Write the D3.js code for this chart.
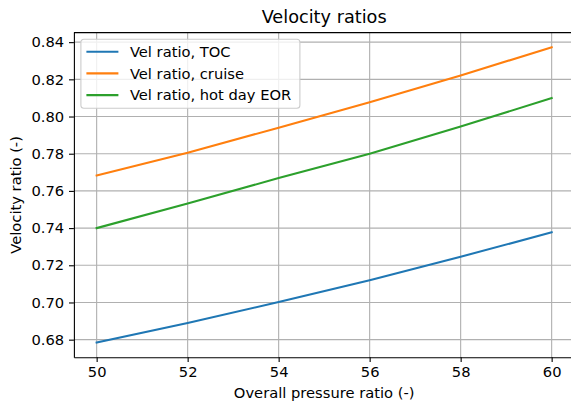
<!DOCTYPE html>
<html lang="en">
<head>
  <meta charset="UTF-8">
  <title>Velocity ratios</title>
  <script src="https://d3js.org/d3.v7.min.js"></script>
  <style>
    body {
      margin: 0;
      background: #fff;
      font-family: "DejaVu Sans", sans-serif;
    }
    svg text { fill: #000; }
  </style>
</head>
<body>
  <div id="chart"></div>
  <script>
    // data
    const opr = [50, 52, 54, 56, 58, 60];
    const velTOC = [0.6785, 0.689, 0.7002, 0.712, 0.7246, 0.7377];
    const velCruise = [0.7683, 0.7805, 0.7940, 0.8077, 0.8221, 0.8372];
    const velHotDay = [0.7400, 0.7532, 0.7669, 0.7800, 0.7946, 0.8099];
    const seriesNames = ["Vel ratio, TOC", "Vel ratio, cruise", "Vel ratio, hot day EOR"];
    const xTicks = [50, 52, 54, 56, 58, 60];
    const yTicks = [0.68, 0.70, 0.72, 0.74, 0.76, 0.78, 0.80, 0.82, 0.84];

    const colors = ["#1f77b4", "#ff7f0e", "#2ca02c"];
    const width = 571, height = 404;
    const margin = {top: 32.6, right: -3.4, bottom: 46.8, left: 73.9};
    const innerW = width - margin.left - margin.right;
    const innerH = height - margin.top - margin.bottom;
    const fs = 14.7;

    const series = [velTOC, velCruise, velHotDay].map((vals, i) => ({
      name: seriesNames[i],
      color: colors[i],
      points: opr.map((x, j) => ({x: x, y: vals[j]}))
    }));

    // matplotlib style 5% margins
    const allY = [].concat(velTOC, velCruise, velHotDay);
    const yMin = d3.min(allY), yMax = d3.max(allY);
    const yPad = (yMax - yMin) * 0.05;
    const xPad = (d3.max(opr) - d3.min(opr)) * 0.05;

    const x = d3.scaleLinear()
      .domain([d3.min(opr) - xPad, d3.max(opr) + xPad])
      .range([0, innerW]);
    const y = d3.scaleLinear()
      .domain([yMin - yPad, yMax + yPad])
      .range([innerH, 0]);

    const svg = d3.select("#chart").append("svg")
      .attr("width", width)
      .attr("height", height);

    const g = svg.append("g")
      .attr("transform", `translate(${margin.left},${margin.top})`);

    // grid
    g.append("g").selectAll("line")
      .data(xTicks).join("line")
      .attr("x1", d => x(d)).attr("x2", d => x(d))
      .attr("y1", 0).attr("y2", innerH)
      .attr("stroke", "#b0b0b0").attr("stroke-width", 1.1);
    g.append("g").selectAll("line")
      .data(yTicks).join("line")
      .attr("x1", 0).attr("x2", innerW)
      .attr("y1", d => y(d)).attr("y2", d => y(d))
      .attr("stroke", "#b0b0b0").attr("stroke-width", 1.1);

    // lines
    const line = d3.line().x(d => x(d.x)).y(d => y(d.y));
    g.append("g").selectAll("path")
      .data(series).join("path")
      .attr("d", d => line(d.points))
      .attr("fill", "none")
      .attr("stroke", d => d.color)
      .attr("stroke-width", 2.1)
      .attr("stroke-linecap", "square");

    // axes
    const xAxis = g.append("g")
      .attr("transform", `translate(0,${innerH})`)
      .call(d3.axisBottom(x).tickValues(xTicks).tickSizeInner(4.9).tickSizeOuter(0)
        .tickPadding(4.9).tickFormat(d3.format("d")));
    const yAxis = g.append("g")
      .call(d3.axisLeft(y).tickValues(yTicks).tickSizeInner(4.9).tickSizeOuter(0)
        .tickPadding(4.9).tickFormat(d3.format(".2f")));

    [xAxis, yAxis].forEach(a => {
      a.select(".domain").attr("stroke", "#000").attr("stroke-width", 1.1);
      a.selectAll(".tick line").attr("stroke", "#000").attr("stroke-width", 1.1);
      a.selectAll(".tick text")
        .attr("font-family", "DejaVu Sans")
        .attr("font-size", fs);
    });
    // top spine
    g.append("line")
      .attr("x1", 0).attr("x2", innerW)
      .attr("y1", 0).attr("y2", 0)
      .attr("stroke", "#000").attr("stroke-width", 1.1);

    // title and labels
    svg.append("text")
      .attr("x", margin.left + innerW / 2)
      .attr("y", 23)
      .attr("text-anchor", "middle")
      .attr("font-size", 17.7)
      .text("Velocity ratios");
    svg.append("text")
      .attr("x", margin.left + innerW / 2)
      .attr("y", 398)
      .attr("text-anchor", "middle")
      .attr("font-size", fs)
      .text("Overall pressure ratio (-)");
    svg.append("text")
      .attr("transform", `translate(21,${margin.top + innerH / 2}) rotate(-90)`)
      .attr("text-anchor", "middle")
      .attr("font-size", fs)
      .text("Velocity ratio (-)");

    // legend
    const legend = g.append("g").attr("transform", "translate(7,6.7)");
    legend.append("rect")
      .attr("width", 219).attr("height", 69)
      .attr("rx", 3)
      .attr("fill", "rgba(255,255,255,0.8)")
      .attr("stroke", "#cccccc").attr("stroke-width", 1.1);
    const items = legend.selectAll("g.item")
      .data(series).join("g")
      .attr("class", "item")
      .attr("transform", (d, i) => `translate(0,${12.4 + i * 21.7})`);
    items.append("line")
      .attr("x1", 5.5).attr("x2", 37.5)
      .attr("stroke", d => d.color).attr("stroke-width", 2.1);
    items.append("text")
      .attr("x", 49)
      .attr("y", 5.2)
      .attr("font-size", fs)
      .text(d => d.name);
  </script>
</body>
</html>
